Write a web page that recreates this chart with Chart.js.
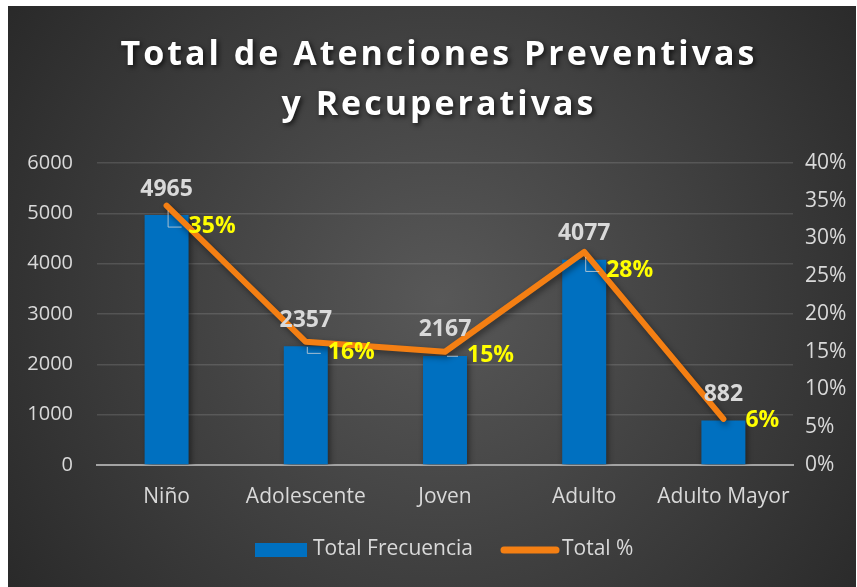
<!doctype html>
<html>
<head>
<meta charset="utf-8">
<title>Total de Atenciones Preventivas y Recuperativas</title>
<script src="https://cdn.jsdelivr.net/npm/chart.js"></script>
<style>
  html, body { margin: 0; padding: 0; background: #fff; }
  #wrap { width: 857px; height: 587px; }
</style>
</head>
<body>
<div id="wrap"><canvas id="chart" width="857" height="587"></canvas></div>
<script>
// Data
var categories = ['Niño', 'Adolescente', 'Joven', 'Adulto', 'Adulto Mayor'];
var frecuencia = [4965, 2357, 2167, 4077, 882];
var porcentaje = [0.3436, 0.1631, 0.1500, 0.2822, 0.0610];
var pctLabels = ['35%', '16%', '15%', '28%', '6%'];
var leftAxis = { min: 0, max: 6000, step: 1000 };
var rightAxis = { min: 0, max: 0.40, step: 0.05 };
var titleLines = ['Total de Atenciones Preventivas', 'y Recuperativas'];
var seriesNames = ['Total Frecuencia', 'Total %'];

// how far each % label sits below its point (Excel moved them by hand)
var pctNudge = [21, 11, 4, 19, 2];

var BLUE = '#0070C0', ORANGE = '#F47F13', TXT = '#d9d9d9';
var FONT = "'Open Sans'";

// background, title and legend
var frame = {
    id: 'frame',
    beforeDraw: function(chart) {
        var ctx = chart.ctx;
        ctx.save();
        ctx.fillStyle = '#fff';
        ctx.fillRect(0, 0, chart.width, chart.height);
        var g = ctx.createRadialGradient(440, 300, 0, 440, 300, 560);
        g.addColorStop(0, '#585858');
        g.addColorStop(1, '#262626');
        ctx.fillStyle = g;
        ctx.fillRect(8, 6, 848, 581);
        ctx.restore();
    },
    afterDraw: function(chart) {
        var ctx = chart.ctx;
        ctx.save();
        // title
        ctx.font = 'bold 34px ' + FONT;
        ctx.letterSpacing = '3px';
        ctx.textAlign = 'center';
        ctx.textBaseline = 'middle';
        ctx.fillStyle = '#ffffff';
        ctx.shadowColor = 'rgba(0,0,0,0.7)';
        ctx.shadowBlur = 5;
        ctx.shadowOffsetX = 2;
        ctx.shadowOffsetY = 2;
        ctx.fillText(titleLines[0], 439, 55);
        ctx.fillText(titleLines[1], 439, 105);
        ctx.restore();

        // legend
        ctx.save();
        ctx.font = '21px ' + FONT;
        ctx.textBaseline = 'middle';
        ctx.fillStyle = BLUE;
        ctx.fillRect(255, 543, 52, 14);
        ctx.fillStyle = TXT;
        ctx.fillText(seriesNames[0], 313, 549);
        ctx.strokeStyle = ORANGE;
        ctx.lineWidth = 7;
        ctx.lineCap = 'round';
        ctx.beginPath();
        ctx.moveTo(504, 550);
        ctx.lineTo(556, 550);
        ctx.stroke();
        ctx.fillText(seriesNames[1], 562, 549);
        ctx.restore();
    }
};

// soft shadow under bars and line
var shadows = {
    id: 'shadows',
    beforeDatasetDraw: function(chart, args) {
        var ctx = chart.ctx;
        ctx.save();
        ctx.shadowColor = 'rgba(0,0,0,0.45)';
        ctx.shadowBlur = 6;
        ctx.shadowOffsetX = 2;
        ctx.shadowOffsetY = 3;
    },
    afterDatasetDraw: function(chart) {
        chart.ctx.restore();
    }
};

// data labels with small leader lines
var labels = {
    id: 'labels',
    afterDatasetsDraw: function(chart) {
        var ctx = chart.ctx;
        var bars = chart.getDatasetMeta(0).data;
        var pts = chart.getDatasetMeta(1).data;
        ctx.save();
        ctx.font = 'bold 23px ' + FONT;
        ctx.textBaseline = 'middle';
        for (var i = 0; i < bars.length; i++) {
            ctx.fillStyle = TXT;
            ctx.textAlign = 'center';
            ctx.fillText(frecuencia[i], bars[i].x, bars[i].y - 26);

            var p = pts[i];
            var lx = p.x + 22, ly = p.y + pctNudge[i];
            ctx.strokeStyle = 'rgba(217,217,217,0.75)';
            ctx.lineWidth = 1;
            if (pctNudge[i] > 8) {
                ctx.beginPath();
                ctx.moveTo(p.x + 1.5, p.y + 5);
                ctx.lineTo(p.x + 1.5, ly + 0.5);
                ctx.lineTo(lx - 7, ly + 0.5);
                ctx.stroke();
            } else if (pctNudge[i] > 3) {
                ctx.beginPath();
                ctx.moveTo(p.x + 2, ly + 0.5);
                ctx.lineTo(lx - 9, ly + 0.5);
                ctx.stroke();
            }
            ctx.fillStyle = '#ffff00';
            ctx.textAlign = 'left';
            ctx.fillText(pctLabels[i], lx, ly);
        }
        ctx.restore();
    }
};

var ctx = document.getElementById('chart').getContext('2d');
var chart = new Chart(ctx, {
    data: {
        labels: categories,
        datasets: [
            {
                type: 'bar',
                label: seriesNames[0],
                data: frecuencia,
                backgroundColor: BLUE,
                yAxisID: 'y',
                categoryPercentage: 1,
                barPercentage: 0.316,
                order: 2
            },
            {
                type: 'line',
                label: seriesNames[1],
                data: porcentaje,
                borderColor: ORANGE,
                borderWidth: 6,
                borderCapStyle: 'round',
                borderJoinStyle: 'round',
                pointRadius: 0,
                tension: 0,
                yAxisID: 'y1',
                order: 1
            }
        ]
    },
    options: {
        responsive: false,
        animation: false,
        devicePixelRatio: 1,
        layout: { padding: { top: 163, left: 0, right: 0, bottom: 0 } },
        plugins: {
            legend: { display: false },
            title: { display: false },
            tooltip: { enabled: false }
        },
        scales: {
            x: {
                grid: { display: false, drawTicks: false },
                border: { display: true, color: '#a3a3a3', width: 2 },
                ticks: { color: TXT, font: { family: FONT, size: 21 }, padding: 19 },
                afterFit: function(s) { s.height = 122; }
            },
            y: {
                position: 'left',
                min: leftAxis.min,
                max: leftAxis.max,
                ticks: {
                    stepSize: leftAxis.step,
                    color: TXT,
                    font: { family: FONT, size: 20 },
                    padding: 24,
                    callback: function(v) { return String(v); }
                },
                grid: { color: 'rgba(255,255,255,0.13)', lineWidth: 1.5, drawTicks: false },
                border: { display: false },
                afterFit: function(s) { s.width = 97; }
            },
            y1: {
                position: 'right',
                min: rightAxis.min,
                max: rightAxis.max,
                ticks: {
                    stepSize: rightAxis.step,
                    color: TXT,
                    font: { family: FONT, size: 21 },
                    padding: 12,
                    callback: function(v) { return Math.round(v * 100) + '%'; }
                },
                grid: { display: false, drawTicks: false },
                border: { display: false },
                afterFit: function(s) { s.width = 64; }
            }
        }
    },
    plugins: [frame, shadows, labels]
});
</script>
</body>
</html>
